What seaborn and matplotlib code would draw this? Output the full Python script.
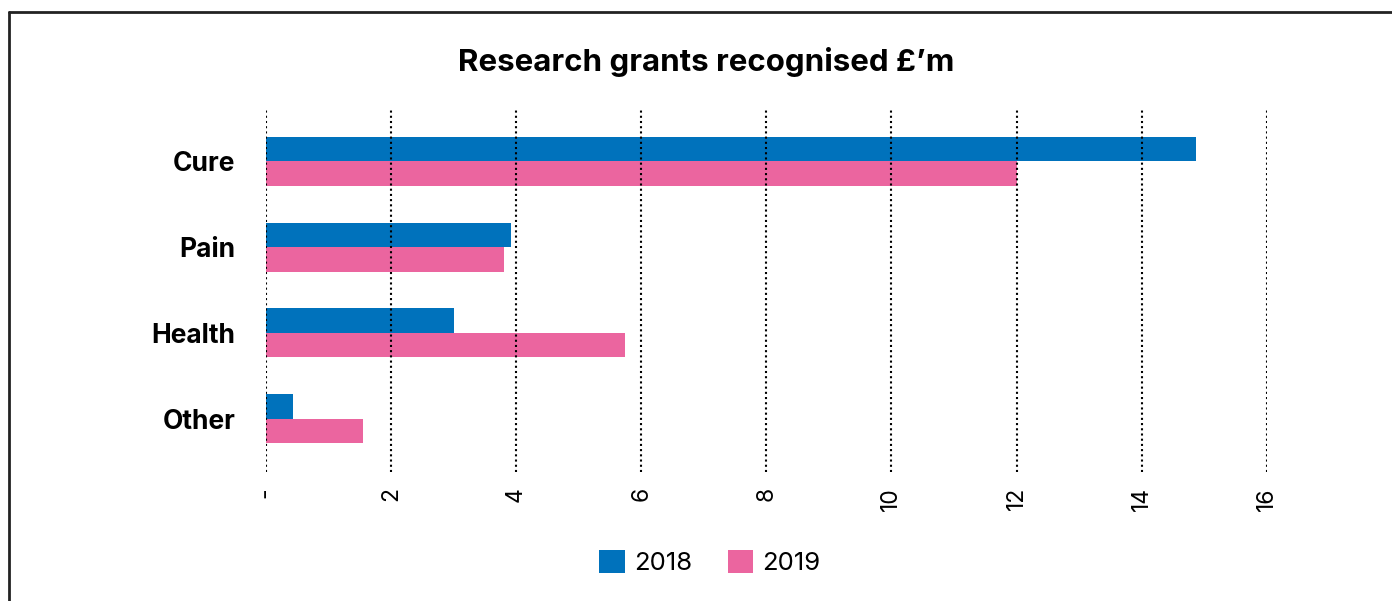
import matplotlib
matplotlib.use("Agg")
import matplotlib.pyplot as plt
import seaborn as sns
import pandas as pd
from matplotlib.lines import Line2D

categories = ["Cure", "Pain", "Health", "Other"]
years = ["2018", "2019"]
values_2018 = [14.87, 3.92, 3.0, 0.43]
values_2019 = [12.0, 3.81, 5.74, 1.55]
x_ticks = [0, 2, 4, 6, 8, 10, 12, 14, 16]
x_tick_labels = ["-", "2", "4", "6", "8", "10", "12", "14", "16"]
title = "Research grants recognised £’m"

df = pd.DataFrame({
    "category": categories * 2,
    "year": ["2018"] * len(categories) + ["2019"] * len(categories),
    "value": values_2018 + values_2019,
})

sns.set_theme(style="white")
plt.rcParams["font.family"] = ["Inter", "DejaVu Sans"]
plt.rcParams["text.color"] = "black"
plt.rcParams["xtick.color"] = "black"
plt.rcParams["ytick.color"] = "black"

fig = plt.figure(figsize=(13.92, 6.01), dpi=100)
ax = fig.add_axes([0.191, 0.215, 0.719, 0.602])

palette = {"2018": "#0072BC", "2019": "#EB659F"}
sns.barplot(data=df, y="category", x="value", hue="year", order=categories,
            hue_order=years, palette=palette, orient="h", width=0.57,
            saturation=1, linewidth=0, ax=ax, zorder=2)

ax.set_xlim(0, 16)
ax.set_ylim(3.62, -0.6)
ax.set_xticks(x_ticks)
ax.set_xticklabels(x_tick_labels, rotation=90, fontsize=16.5)
ax.tick_params(axis="x", length=0, pad=11, colors="black")
ax.tick_params(axis="y", length=0, pad=22)
for lab in ax.get_yticklabels():
    lab.set_fontweight("bold")
    lab.set_fontsize(19)
    lab.set_color("black")
ax.set_xlabel("")
ax.set_ylabel("")
for s in ax.spines.values():
    s.set_visible(False)
ax.grid(False)
for t in x_ticks:
    ax.axvline(t, color="black", linestyle=(0, (1, 1.5)), linewidth=1.5, zorder=3)

leg = ax.legend(loc="center", bbox_to_anchor=(0.5 + (710 - 0.5 * (266 + 1267)) / 1001, -0.25),
                ncol=2, frameon=False, fontsize=18.5, handlelength=1.0, handleheight=1.0,
                columnspacing=1.4, handletextpad=0.35)
for t in leg.get_texts():
    t.set_color("black")

fig.suptitle(title, fontsize=22.5, fontweight="bold", x=0.507, y=0.922, color="black")

fig.add_artist(Line2D([0.0065, 0.0065], [0, 0.98], transform=fig.transFigure, color="#222222", linewidth=2))
fig.add_artist(Line2D([0.0065, 1.0], [0.98, 0.98], transform=fig.transFigure, color="#222222", linewidth=2))

fig.savefig("out.png", dpi=100)
